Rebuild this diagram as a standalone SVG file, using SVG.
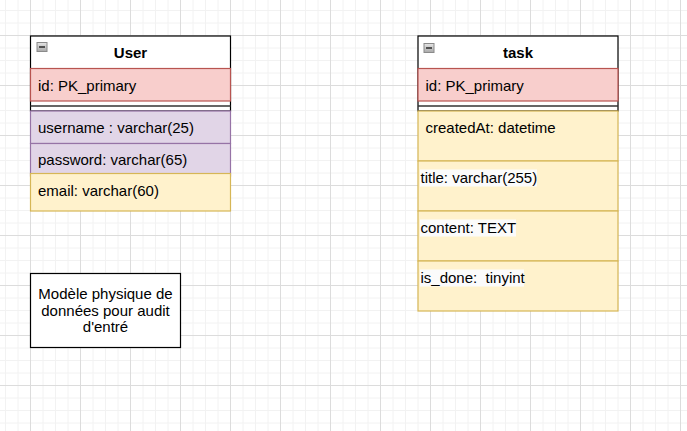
<svg xmlns="http://www.w3.org/2000/svg" width="687" height="431" viewBox="0 0 687 431">
<defs>
<pattern id="grid" x="30" y="35" width="50" height="50" patternUnits="userSpaceOnUse">
<path d="M13 0V50M25.5 0V50M38 0V50M0 13H50M0 25.5H50M0 38H50" stroke="#f2f2f2" stroke-width="1" fill="none"/>
<path d="M0.5 0V50M0 0.5H50" stroke="#dcdcdc" stroke-width="1" fill="none"/>
</pattern>
<linearGradient id="ig" x1="0" y1="0" x2="0" y2="1">
<stop offset="0" stop-color="#e6e6e6"/>
<stop offset="1" stop-color="#a8a8a8"/>
</linearGradient>
<g id="icon">
<rect x="0.5" y="0.5" width="10" height="9" fill="url(#ig)" stroke="#8a8a8a"/>
<path d="M2.5 5H8.5" stroke="#333" stroke-width="1.6"/>
</g>
</defs>
<style>
text{font-family:"Liberation Sans",Arial,Helvetica,sans-serif;font-size:15px;fill:#000;white-space:pre}
.title{font-weight:bold}
.hdr{fill:#fff;stroke:#000;stroke-width:1.2}
.pk{fill:#f8cecc;stroke:#b85450;stroke-width:1.2}
.pur{fill:#e1d5e7;stroke:#9673a6;stroke-width:1.2}
.yel{fill:#fff2cc;stroke:#d6b656;stroke-width:1.2}
.sep{stroke:#333;stroke-width:1.3}
.hl{fill:#fbfbfb}
.note{fill:#fff;stroke:#000;stroke-width:1.2}
</style>
<rect width="687" height="431" fill="#fff"/>
<rect width="687" height="431" fill="url(#grid)"/>

<g id="user">
<rect class="hdr" x="30.5" y="36" width="200" height="75"/>
<rect class="pk" x="30.5" y="68.5" width="200" height="32.5"/>
<path class="sep" d="M30.5 106H230.5"/>
<text x="38" y="91">id: PK_primary</text>
<rect class="pur" x="30.5" y="111" width="200" height="32.5"/>
<text x="38" y="133">username : varchar(25)</text>
<rect class="pur" x="30.5" y="143.5" width="200" height="32.5"/>
<text x="38" y="165">password: varchar(65)</text>
<rect class="yel" x="30.5" y="173.5" width="200" height="37.5"/>
<text x="38" y="196">email: varchar(60)</text>
<use href="#icon" x="36.5" y="42"/>
<text class="title" x="130.5" y="58" text-anchor="middle">User</text>
</g>

<g id="task">
<rect class="hdr" x="418" y="36" width="200" height="75"/>
<rect class="pk" x="418" y="68.5" width="200" height="32.5"/>
<path class="sep" d="M418 106H618"/>
<text x="425.5" y="91">id: PK_primary</text>
<rect class="yel" x="418" y="111" width="200" height="50"/>
<text x="425.5" y="133">createdAt: datetime</text>
<rect class="yel" x="418" y="161" width="200" height="50"/>
<rect class="hl" x="420" y="169.5" width="117" height="17"/>
<text x="420.5" y="183">title: varchar(255)</text>
<rect class="yel" x="418" y="211" width="200" height="50"/>
<rect class="hl" x="420" y="219.5" width="96" height="17"/>
<text x="420.5" y="233">content: TEXT</text>
<rect class="yel" x="418" y="261" width="200" height="50"/>
<rect class="hl" x="420" y="269.5" width="104" height="17"/>
<text x="420.5" y="283" xml:space="preserve">is_done:  tinyint</text>
<use href="#icon" x="423.5" y="43"/>
<text class="title" x="518" y="58" text-anchor="middle">task</text>
</g>

<g id="note">
<rect class="note" x="30.5" y="273.5" width="150" height="74"/>
<text x="105.5" y="298.5" text-anchor="middle">Modèle physique de</text>
<text x="105.5" y="315.5" text-anchor="middle">données pour audit</text>
<text x="105.5" y="332" text-anchor="middle">d'entré</text>
</g>

<g id="connectors"></g>
</svg>
